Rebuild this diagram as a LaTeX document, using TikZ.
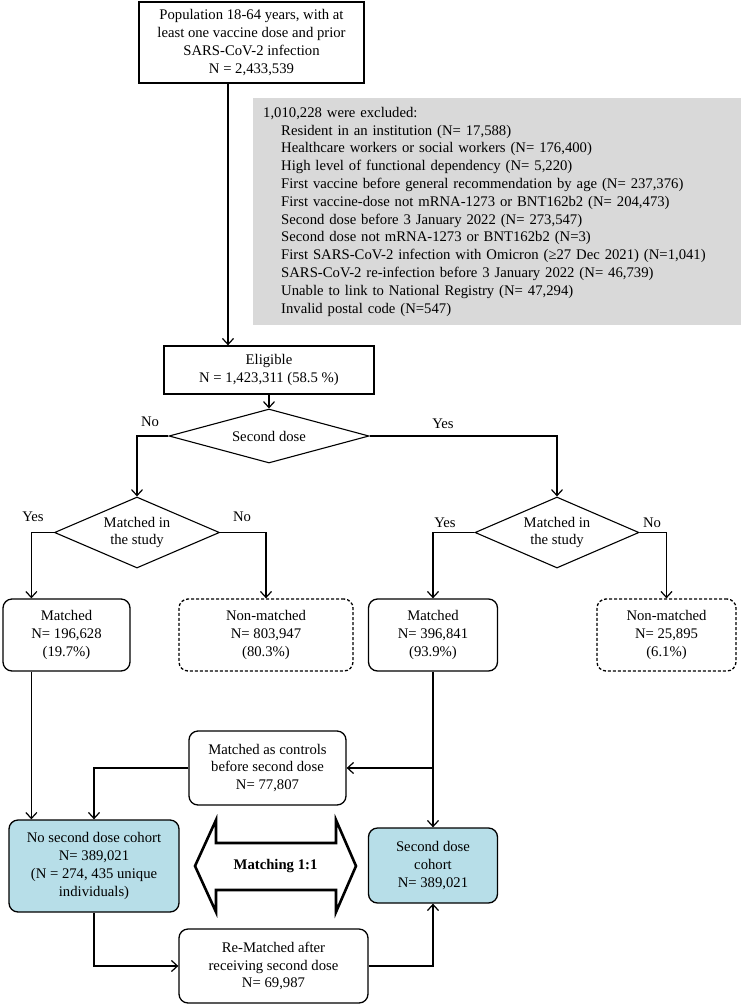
\documentclass[tikz,border=0pt]{standalone}
\usepackage{fontspec}
\setmainfont{Liberation Serif}
\usetikzlibrary{shapes.geometric,arrows.meta}
\definecolor{exclgray}{RGB}{217,217,217}
\definecolor{cohortblue}{RGB}{183,222,232}
\begin{document}
\begin{tikzpicture}[x=1pt,y=-1pt,
  every node/.style={font=\fontsize{14.7}{17.8}\selectfont},
  box/.style={draw, line width=1.3pt, align=center, inner sep=0pt},
  rbox/.style={box, rounded corners=9pt},
  dbox/.style={rbox, dash pattern=on 3pt off 2pt},
  cohort/.style={rbox, fill=cohortblue},
  decision/.style={draw, diamond, line width=1.1pt, align=center, inner sep=0pt},
  arr/.style={line width=1.2pt, -{Straight Barb[length=6pt,width=11pt]}},
  lab/.style={inner sep=0pt}]
\useasboundingbox (0,0) rectangle (742,1005);

% top
\node[box, minimum width=225pt, minimum height=81pt] (top) at (251.5,42.5)
  {Population 18-64 years, with at\\least one vaccine dose and prior\\SARS-CoV-2 infection\\N = 2,433,539};

% exclusions
\node[fill=exclgray, anchor=north west, minimum width=488pt, minimum height=227pt,
      text width=468pt, inner xsep=10pt, inner ysep=0pt, align=left] (excl) at (253,98)
  {1,010,228 were excluded:\\
   \hspace*{18pt}Resident in an institution (N= 17,588)\\
   \hspace*{18pt}Healthcare workers or social workers (N= 176,400)\\
   \hspace*{18pt}High level of functional dependency (N= 5,220)\\
   \hspace*{18pt}First vaccine before general recommendation by age (N= 237,376)\\
   \hspace*{18pt}First vaccine-dose not mRNA-1273 or BNT162b2 (N= 204,473)\\
   \hspace*{18pt}Second dose before 3 January 2022 (N= 273,547)\\
   \hspace*{18pt}Second dose not mRNA-1273 or BNT162b2 (N=3)\\
   \hspace*{18pt}First SARS-CoV-2 infection with Omicron (≥27 Dec 2021) (N=1,041)\\
   \hspace*{18pt}SARS-CoV-2 re-infection before 3 January 2022 (N= 46,739)\\
   \hspace*{18pt}Unable to link to National Registry (N= 47,294)\\
   \hspace*{18pt}Invalid postal code (N=547)};

% eligible
\node[box, minimum width=210pt, minimum height=48pt] (eli) at (269,370)
  {Eligible\\N = 1,423,311 (58.5 \%)};

% decisions
\node[decision, minimum width=200pt, minimum height=54pt, aspect=3.7] (d1) at (269,436) {Second dose};
\node[decision, minimum width=165pt, minimum height=71pt, aspect=2.3] (dL) at (137,532.5) {Matched in\\the study};
\node[decision, minimum width=164pt, minimum height=71pt, aspect=2.3] (dR) at (557,532.5) {Matched in\\the study};

% labels
\node[lab] (noA) at (150,422) {No};
\node[lab] (yesA) at (443,424) {Yes};
\node[lab] (yesL) at (33,517) {Yes};
\node[lab] (noL) at (242,517) {No};
\node[lab] (yesR) at (445,523) {Yes};
\node[lab] (noR) at (652,523) {No};

% outcome boxes
\node[rbox, minimum width=127pt, minimum height=72pt] (mL) at (66.5,635) {Matched\\N= 196,628\\(19.7\%)};
\node[dbox, minimum width=174pt, minimum height=72pt] (nmL) at (266,635) {Non-matched\\N= 803,947\\(80.3\%)};
\node[rbox, minimum width=129pt, minimum height=72pt] (mR) at (433,635) {Matched\\N= 396,841\\(93.9\%)};
\node[dbox, minimum width=139pt, minimum height=72pt] (nmR) at (666.5,635) {Non-matched\\N= 25,895\\(6.1\%)};

% lower part
\node[rbox, minimum width=157pt, minimum height=74pt] (ctrl) at (267.5,768) {Matched as controls\\before second dose\\N= 77,807};
\node[cohort, minimum width=170pt, minimum height=92pt] (nsd) at (94,866) {No second dose cohort\\N= 389,021\\(N = 274, 435 unique\\individuals)};
\node[cohort, minimum width=129pt, minimum height=75pt] (sdc) at (433,865.5) {Second dose\\cohort\\N= 389,021};
\node[rbox, minimum width=189pt, minimum height=74pt] (remat) at (273.5,966) {Re-Matched after\\receiving second dose\\N= 69,987};

% double arrow
\draw[line width=2.6pt, fill=white, line join=miter]
  (195,866) -- (216,820) -- (216,843) -- (336,843) -- (336,820) -- (356,866)
  -- (336,912) -- (336,890) -- (216,890) -- (216,912) -- cycle;
\node[font=\fontsize{14.7}{17.8}\selectfont\bfseries] (match) at (275.5,866) {Matching 1:1};

% connectors
\draw[arr] ([xshift=-23.5pt]top.south) -- ([xshift=-23.5pt]top.south |- eli.north);
\draw[arr] (eli.south) -- (d1.north);
\draw[arr] (d1.west) -| (dL.north);
\draw[arr] (d1.east) -| (dR.north);
\draw[arr] (dL.west) -| ([xshift=29pt]mL.north west);
\draw[arr] (dL.east) -| (nmL.north);
\draw[arr] (dR.west) -| (mR.north);
\draw[arr] (dR.east) -| (nmR.north);
\draw[arr] ([xshift=29pt]mL.south west) -- ([xshift=29pt]mL.south west |- nsd.north);
\draw[arr] (mR.south) -- (mR.south |- sdc.north);
\draw[arr] (mR.south |- ctrl.east) -- (ctrl.east);
\draw[arr] (ctrl.west) -| (nsd.north);
\draw[arr] (nsd.south) |- (remat.west);
\draw[arr] (remat.east) -| (sdc.south);
\end{tikzpicture}
\end{document}
